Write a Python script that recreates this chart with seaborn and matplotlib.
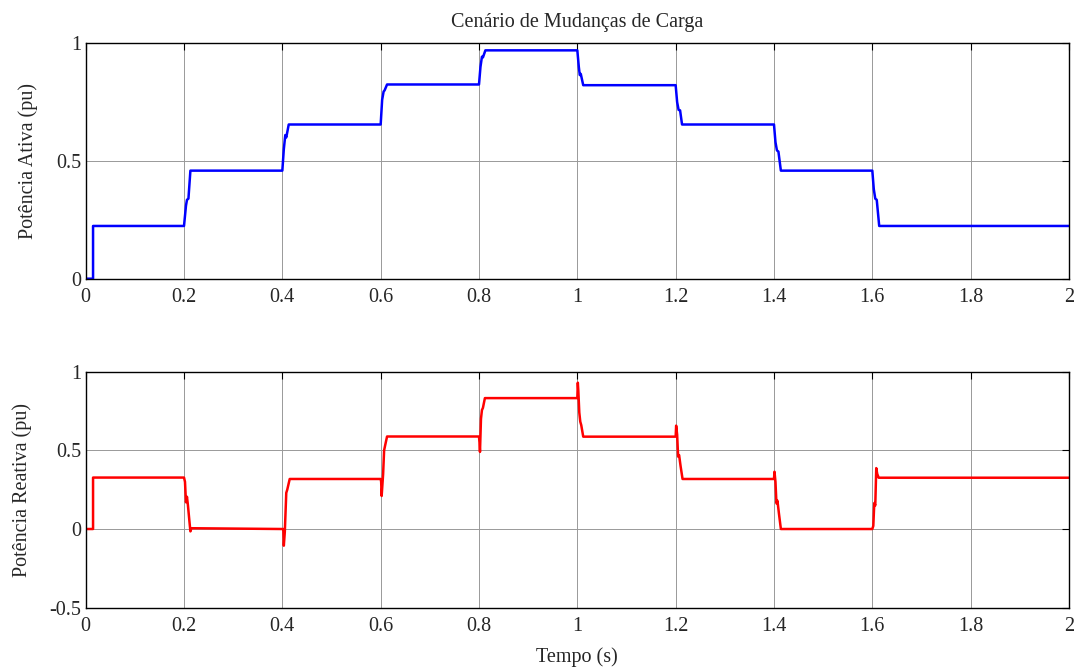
import numpy as np
import pandas as pd
import matplotlib
matplotlib.use("Agg")
import matplotlib.pyplot as plt
from matplotlib.ticker import FuncFormatter
import seaborn as sns

sns.set_style("white")
plt.rcParams["font.family"] = ["Liberation Serif", "DejaVu Serif"]

# potencia ativa: breakpoints (time s, value pu)
t_ativa = [0.0, 0.015, 0.015, 0.200, 0.204, 0.206, 0.209, 0.213, 0.400, 0.403, 0.406,
           0.408, 0.413, 0.600, 0.603, 0.606, 0.608, 0.613, 0.800, 0.803, 0.806,
           0.808, 0.813, 1.000, 1.003, 1.005, 1.007, 1.012, 1.200, 1.203, 1.206,
           1.209, 1.213, 1.400, 1.403, 1.406, 1.409, 1.414, 1.600, 1.603, 1.606,
           1.609, 1.614, 2.0]
p_ativa = [0.0, 0.0, 0.224, 0.224, 0.31, 0.335, 0.34, 0.459, 0.459, 0.55, 0.61,
           0.60, 0.655, 0.655, 0.76, 0.795, 0.80, 0.825, 0.825, 0.90, 0.943,
           0.94, 0.97, 0.97, 0.90, 0.865, 0.87, 0.822, 0.822, 0.75, 0.717,
           0.715, 0.655, 0.655, 0.58, 0.545, 0.54, 0.459, 0.459, 0.38, 0.34,
           0.335, 0.224, 0.224]

# potencia reativa
t_reativa = [0.0, 0.015, 0.015, 0.200, 0.202, 0.204, 0.206, 0.208, 0.211, 0.213,
             0.215, 0.400, 0.402, 0.403, 0.405, 0.408, 0.410, 0.415, 0.600, 0.601,
             0.602, 0.605, 0.607, 0.609, 0.613, 0.800, 0.801, 0.802, 0.804, 0.806,
             0.808, 0.812, 1.000, 1.001, 1.002, 1.004, 1.006, 1.008, 1.012, 1.200,
             1.201, 1.203, 1.205, 1.207, 1.210, 1.214, 1.400, 1.401, 1.403, 1.405,
             1.407, 1.410, 1.414, 1.600, 1.602, 1.604, 1.606, 1.608, 1.610, 1.613, 2.0]
q_reativa = [0.0, 0.0, 0.327, 0.327, 0.30, 0.17, 0.205, 0.15, 0.05, -0.015,
             0.005, 0.0, 0.0, -0.106, -0.02, 0.23, 0.25, 0.318, 0.318, 0.30,
             0.21, 0.35, 0.50, 0.53, 0.588, 0.588, 0.55, 0.49, 0.70, 0.756,
             0.77, 0.832, 0.832, 0.93, 0.88, 0.74, 0.682, 0.66, 0.587, 0.587,
             0.657, 0.60, 0.46, 0.47, 0.40, 0.318, 0.318, 0.364, 0.30, 0.163,
             0.18, 0.10, 0.0, 0.0, 0.02, 0.165, 0.15, 0.387, 0.35, 0.326, 0.326]

x_ticks = [0, 0.2, 0.4, 0.6, 0.8, 1.0, 1.2, 1.4, 1.6, 1.8, 2.0]

df_p = pd.DataFrame({"t": t_ativa, "p": p_ativa})
df_q = pd.DataFrame({"t": t_reativa, "q": q_reativa})

fig = plt.figure(figsize=(10.75, 6.68), dpi=100)
ax1 = fig.add_axes([0.0797, 0.5828, 0.9147, 0.3524])
ax2 = fig.add_axes([0.0797, 0.0903, 0.9147, 0.3533])

sns.lineplot(data=df_p, x="t", y="p", ax=ax1, color="#0000ff", linewidth=1.8,
             sort=False, estimator=None)
sns.lineplot(data=df_q, x="t", y="q", ax=ax2, color="#ff0000", linewidth=1.8,
             sort=False, estimator=None)

fs = 14.5
fmt = FuncFormatter(lambda v, pos: "{:g}".format(round(v, 3)))
for ax in (ax1, ax2):
    ax.set_xlim(0, 2)
    ax.set_xticks(x_ticks)
    ax.xaxis.set_major_formatter(fmt)
    ax.yaxis.set_major_formatter(fmt)
    ax.grid(True, color="#999999", linewidth=0.7)
    ax.tick_params(direction="in", length=5, width=0.8, top=True, right=True,
                   labelsize=fs, pad=3, color="black")
    ax.tick_params(axis="x", pad=7)
    for s in ax.spines.values():
        s.set_color("black")
        s.set_linewidth(1.0)
    ax.set_xlabel("")

ax1.set_ylim(0, 1)
ax1.set_yticks([0, 0.5, 1])
ax1.set_ylabel("Potência Ativa (pu)", fontsize=fs, labelpad=13)
ax1.set_title("Cenário de Mudanças de Carga", fontsize=fs, pad=12)

ax2.set_ylim(-0.5, 1)
ax2.set_yticks([-0.5, 0, 0.5, 1])
ax2.set_ylabel("Potência Reativa (pu)", fontsize=fs, labelpad=13)
ax2.set_xlabel("Tempo (s)", fontsize=fs, labelpad=8)

plt.savefig("out.png", dpi=100)
